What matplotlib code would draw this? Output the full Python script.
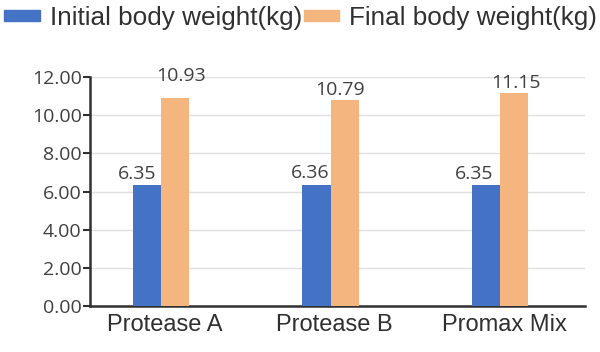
import matplotlib
matplotlib.use("Agg")
import matplotlib.pyplot as plt
import numpy as np
from matplotlib.patches import Patch

categories = ["Protease A", "Protease B", "Promax Mix"]
initial = [6.35, 6.36, 6.35]
final = [10.93, 10.79, 11.15]
series_names = ["Initial body weight(kg)", "Final body weight(kg)"]
yticks = [0, 2, 4, 6, 8, 10, 12]

# label placement offsets (pixels) as in the original chart
initial_label_off = [(-10, 6), (-6, 7), (-12, 6)]
final_label_off = [(6, 17), (-5, 5), (2, 5)]

blue = "#4472C4"
orange = "#F4B57E"
txt = "#404040"

fig = plt.figure(figsize=(6, 3.52), dpi=100)
ax = fig.add_axes([0.15, 0.1307, 0.825, 0.65])

x = np.arange(len(categories))
w = 0.166
b1 = ax.bar(x - w/2, initial, w, color=blue, zorder=3)
b2 = ax.bar(x + w/2, final, w, color=orange, zorder=3)

for bars, vals, offs in ((b1, initial, initial_label_off), (b2, final, final_label_off)):
    for rect, v, (dx, dy) in zip(bars, vals, offs):
        ax.annotate(f"{v:.2f}", (rect.get_x() + rect.get_width()/2, v),
                    xytext=(dx, dy), textcoords="offset pixels",
                    ha="center", va="baseline",
                    fontsize=14, color=txt, family="Open Sans")

ax.set_ylim(0, 12)
ax.set_xlim(-0.418, 2.5)
ax.set_yticks(yticks)
ax.set_yticklabels([f"{t:.2f}" for t in yticks], family="Open Sans", fontsize=14, color=txt)
ax.set_xticks(x + 0.024)
ax.set_xticklabels(categories, family="Liberation Sans", fontsize=17, color="#303030")
ax.tick_params(axis="x", length=0, pad=6)
ax.tick_params(axis="y", length=5, width=1.5, color="#303030", pad=1, direction="out")
ax.yaxis.grid(True, color="#E0E0E0", linewidth=1, zorder=0)
for s in ["top", "right"]:
    ax.spines[s].set_visible(False)
ax.spines["left"].set_linewidth(1.8)
ax.spines["left"].set_color("#303030")
ax.spines["bottom"].set_linewidth(1.8)
ax.spines["bottom"].set_color("#303030")

handles = [Patch(color=blue), Patch(color=orange)]
fig.legend(handles, series_names, loc="upper left", bbox_to_anchor=(0.003, 0.99), ncol=2,
           frameon=False, prop={"family": "Liberation Sans", "size": 18.8},
           handlelength=1.35, handleheight=0.3, handletextpad=0.4, columnspacing=0.05,
           labelcolor="#303030", borderaxespad=0.0, borderpad=0.1)

fig.savefig("out.png", dpi=100)
